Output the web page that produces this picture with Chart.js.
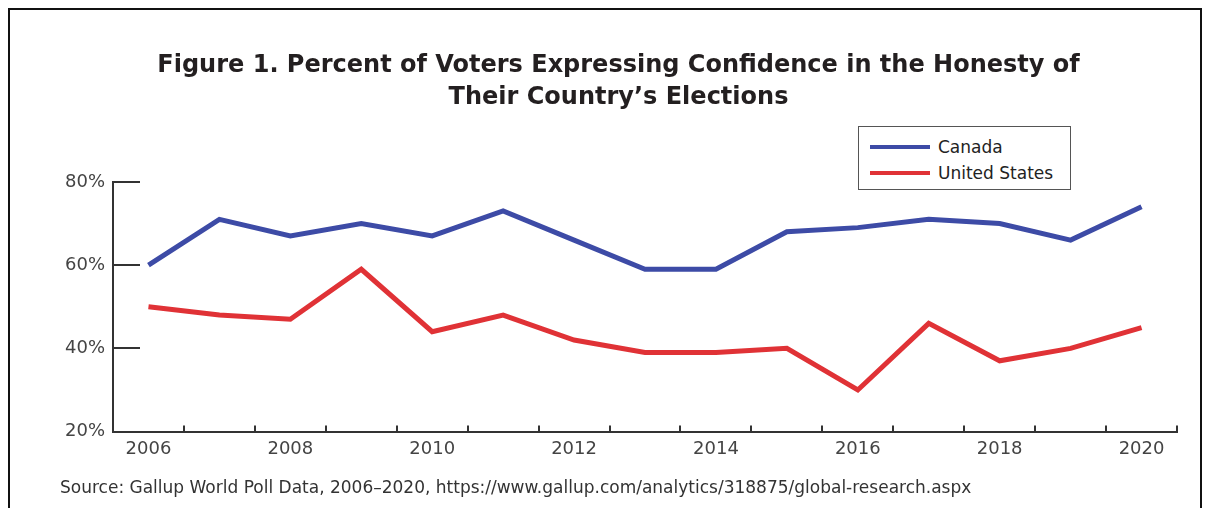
<!DOCTYPE html>
<html>
<head>
<meta charset="utf-8">
<script src="https://cdn.jsdelivr.net/npm/chart.js@4.4.0/dist/chart.umd.min.js"></script>
<style>
  body { margin: 0; background: #fff; }
  #wrap { position: relative; width: 1209px; height: 508px; overflow: hidden; }
  #frame { position: absolute; left: 8px; top: 8px; width: 1190px; height: 600px; border: 2px solid #111; }
  #holder { position: absolute; left: 0; top: 0; width: 1209px; height: 508px; }
  #legend { position: absolute; left: 858px; top: 126px; width: 211px; height: 62px; border: 1.5px solid #555;
            background: #fff; font-family: "DejaVu Sans", sans-serif; font-size: 17px; color: #222; }
  .item { position: absolute; left: 11px; height: 20px; display: flex; align-items: center; }
  .swatch { width: 60px; height: 4px; margin-right: 8px; }
</style>
</head>
<body>
<div id="wrap">
  <div id="frame"></div>
  <div id="holder"><canvas id="myChart"></canvas></div>
  <div id="legend"></div>
</div>
<script>
const years = ["2006","2007","2008","2009","2010","2011","2012","2013","2014","2015","2016","2017","2018","2019","2020"]
const canada = [60, 71, 67, 70, 67, 73, 66, 59, 59, 68, 69, 71, 70, 66, 74]
const unitedStates = [50, 48, 47, 59, 44, 48, 42, 39, 39, 40, 30, 46, 37, 40, 45]
const yTicks = [20, 40, 60, 80]
const seriesNames = ["Canada", "United States"]
const seriesColors = ["#3d4ba6", "#e03236"]

// short tick marks pointing into the plot
const innerTicks = {
  id: "innerTicks",
  beforeDatasetsDraw(chart) {
    const ctx = chart.ctx
    const x = chart.scales.x
    const y = chart.scales.y
    ctx.save()
    ctx.strokeStyle = "#333"
    ctx.lineWidth = 2
    ctx.beginPath()
    for (let i = 0; i < years.length; i++) {
      const px = Math.round(x.getPixelForValue(i + 0.5))
      ctx.moveTo(px, x.top)
      ctx.lineTo(px, x.top - 6)
    }
    yTicks.forEach(v => {
      if (v > y.min) {
        const py = Math.round(y.getPixelForValue(v))
        ctx.moveTo(y.right, py)
        ctx.lineTo(y.right + 27, py)
      }
    })
    ctx.stroke()
    ctx.restore()
  }
}

const tickFont = { family: "DejaVu Sans", size: 18 }

const ctx = document.getElementById("myChart").getContext("2d")
const myChart = new Chart(ctx, {
  type: "line",
  data: {
    labels: years,
    datasets: [
      { label: seriesNames[0], data: canada, borderColor: seriesColors[0], borderWidth: 5, pointRadius: 0, tension: 0 },
      { label: seriesNames[1], data: unitedStates, borderColor: seriesColors[1], borderWidth: 5, pointRadius: 0, tension: 0 }
    ]
  },
  options: {
    responsive: true,
    maintainAspectRatio: false,
    animation: false,
    layout: { padding: { left: 60, right: 32, top: 0, bottom: 0 } },
    plugins: {
      legend: { display: false },
      tooltip: { enabled: false },
      title: {
        display: true,
        text: ["Figure 1. Percent of Voters Expressing Confidence in the Honesty of", "Their Country’s Elections"],
        font: { family: "DejaVu Sans", size: 24, weight: "bold", lineHeight: 1.33 },
        color: "#231f20",
        padding: { top: 50, bottom: 68 }
      },
      subtitle: {
        display: true,
        position: "bottom",
        align: "start",
        text: "Source: Gallup World Poll Data, 2006–2020, https://www.gallup.com/analytics/318875/global-research.aspx",
        font: { family: "DejaVu Sans", size: 17, lineHeight: 1.2 },
        color: "#333",
        padding: { top: 0, bottom: 9 }
      }
    },
    scales: {
      x: {
        offset: true,
        grid: { display: false, drawTicks: false, offset: true },
        border: { display: true, color: "#333", width: 2 },
        ticks: {
          autoSkip: false,
          maxRotation: 0,
          padding: 7,
          color: "#444",
          font: tickFont,
          callback: function (val, i) { return i % 2 === 0 ? this.getLabelForValue(val) : "" }
        },
        afterFit: scale => { scale.height = 47 }
      },
      y: {
        min: 20,
        max: 80,
        grid: { display: false, drawTicks: false },
        border: { display: true, color: "#333", width: 2 },
        afterBuildTicks: scale => { scale.ticks = yTicks.map(v => ({ value: v })) },
        ticks: {
          padding: 8,
          color: "#444",
          font: tickFont,
          callback: v => v + "%"
        },
        afterFit: scale => { scale.width = 53 }
      }
    }
  },
  plugins: [innerTicks]
})

// legend box
const legendBox = document.getElementById("legend")
seriesNames.forEach((name, i) => {
  const row = document.createElement("div")
  row.className = "item"
  row.style.top = (10 + i * 26) + "px"
  row.innerHTML = `<span class="swatch" style="background:${seriesColors[i]}"></span><span>${name}</span>`
  legendBox.appendChild(row)
})
</script>
</body>
</html>
